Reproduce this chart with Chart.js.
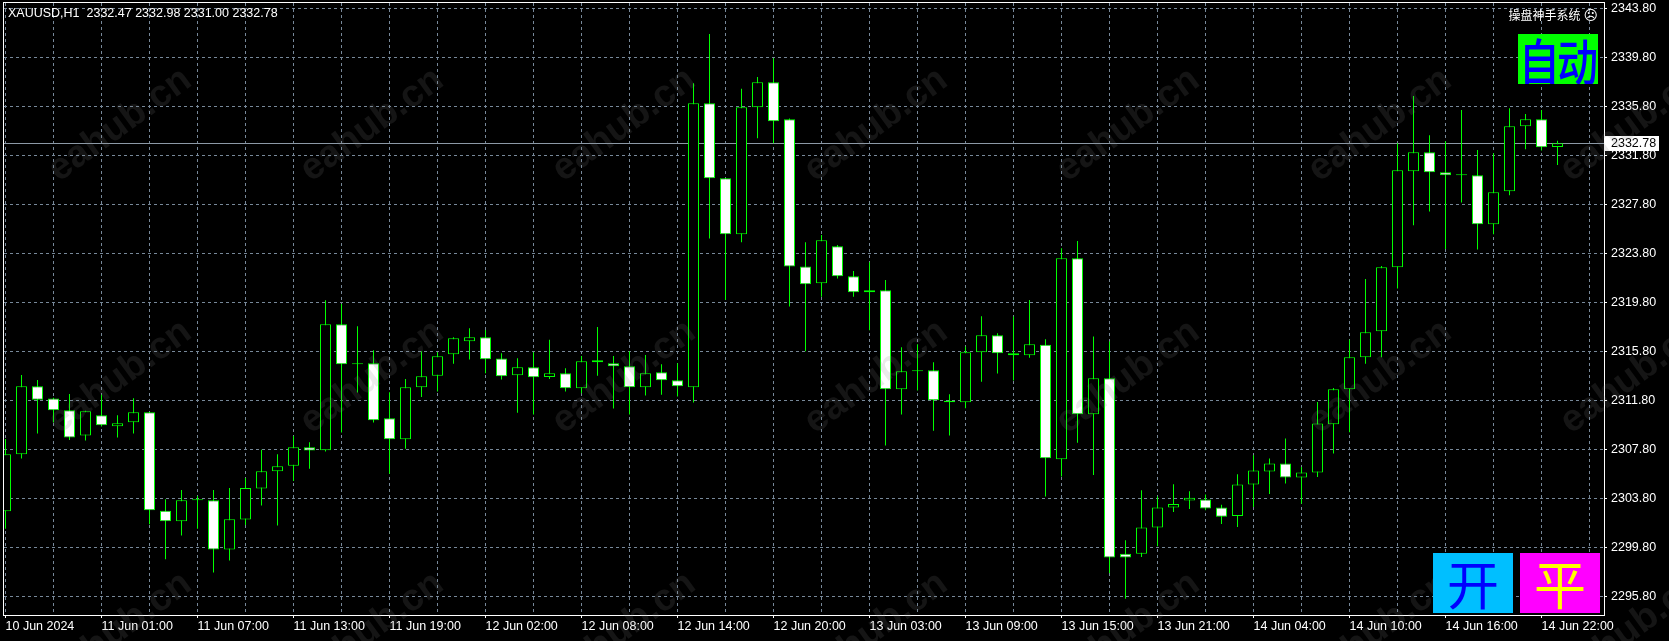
<!DOCTYPE html>
<html>
<head>
<meta charset="utf-8">
<script src="https://cdn.jsdelivr.net/npm/chart.js@4/dist/chart.umd.min.js"></script>
<style>
  html, body { margin: 0; padding: 0; background: #000; }
  #wrap { position: relative; width: 1669px; height: 641px; overflow: hidden; background: #000; }
  canvas { position: absolute; left: 0; top: 0; }
  .txt { position: absolute; color: #fff; font: 12.5px "Liberation Sans", Arial, sans-serif; white-space: pre; }
  #sys { font: 12px "Noto Sans CJK SC", sans-serif; right: 71px; top: 6px; }
  #sys span { font: 14px "DejaVu Sans", sans-serif; margin-left: 3px; }
  .btn { position: absolute; text-align: center; font-family: "Noto Sans CJK SC", sans-serif; overflow: hidden; white-space: nowrap; }
  #auto { left: 1518px; top: 34px; width: 80px; height: 50px; background: #00ff00; color: #0000ff; font-size: 42px; line-height: 50px; letter-spacing: -3px; font-weight: 500; }
  #auto span { display: inline-block; transform: scale(0.98, 1.2); margin-left: -2px; }
  #open { left: 1433px; top: 553px; width: 80px; height: 60px; background: #00bfff; color: #0000ff; font-size: 52px; line-height: 60px; }
  #flat { left: 1520px; top: 553px; width: 80px; height: 60px; background: #ff00ff; color: #ffff00; font-size: 52px; line-height: 60px; }
</style>
</head>
<body>
<div id="wrap">
  <canvas id="c" width="1669" height="641"></canvas>
  <div id="hdr" class="txt" style="left:8px; top:6px;"></div>
  <div id="sys" class="txt">操盘神手系统<span>☹</span></div>
  <div id="auto" class="btn"><span>自动</span></div>
  <div id="open" class="btn">开</div>
  <div id="flat" class="btn">平</div>
</div>
<script>
const symbol = 'XAUUSD';
const period = 'H1';

// one entry per hourly bar, 10 Jun 18:00 .. 14 Jun 23:00
const opens = [2302.74,2307.39,2312.94,2311.94,2310.98,2308.92,2310.58,2309.68,2310.00,2310.82,
  2302.79,2301.92,2303.64,2303.64,2299.61,2302.06,2304.59,2306.00,2306.45,2307.96,
  2307.72,2318.00,2314.74,2314.82,2310.33,2308.62,2312.86,2313.81,2315.56,2316.62,
  2316.94,2315.20,2313.84,2314.49,2313.70,2314.00,2312.78,2315.07,2314.82,2314.58,
  2312.86,2314.09,2313.43,2312.86,2336.04,2329.92,2325.35,2335.72,2337.76,2334.74,
  2322.71,2321.35,2324.37,2321.92,2320.78,2320.78,2312.70,2314.17,2314.25,2311.77,
  2311.64,2315.72,2317.11,2315.64,2315.47,2316.34,2306.98,2323.39,2310.66,2313.60,
  2299.28,2299.26,2301.41,2303.04,2303.61,2303.69,2303.04,2302.36,2304.92,2305.98,
  2306.63,2305.49,2305.90,2309.84,2312.70,2315.31,2317.43,2322.66,2330.49,2332.04,
  2330.41,2330.17,2330.17,2326.17,2328.86,2334.17,2334.74,2332.47];
const highs = [2308.64,2313.87,2313.46,2312.00,2312.32,2310.95,2312.24,2310.58,2311.96,2310.85,
  2303.72,2304.48,2303.99,2304.48,2304.64,2305.46,2307.75,2307.39,2308.89,2308.37,
  2319.96,2319.66,2317.84,2315.88,2312.45,2313.54,2315.80,2315.72,2316.94,2317.68,
  2317.54,2315.64,2315.23,2315.72,2316.73,2314.41,2315.42,2317.79,2315.42,2315.80,
  2315.50,2314.74,2314.82,2337.68,2341.70,2329.95,2337.22,2338.19,2339.72,2334.80,
  2324.70,2325.30,2324.48,2322.36,2323.07,2321.62,2316.13,2316.37,2314.90,2312.29,
  2316.18,2318.66,2317.27,2318.63,2319.99,2316.78,2324.20,2324.81,2317.00,2316.60,
  2300.37,2304.45,2303.94,2304.94,2304.37,2304.10,2303.28,2305.76,2307.31,2307.04,
  2308.67,2306.36,2311.66,2312.80,2316.73,2321.70,2322.77,2332.78,2336.64,2333.43,
  2332.94,2335.50,2332.24,2331.96,2335.64,2335.17,2335.50,2332.98];
const lows = [2301.32,2307.04,2309.08,2309.98,2308.56,2308.51,2309.65,2308.75,2309.08,2301.68,
  2298.82,2300.75,2301.32,2297.73,2298.71,2301.62,2303.20,2301.57,2305.20,2306.20,
  2307.61,2309.16,2312.43,2309.98,2305.80,2307.85,2312.07,2312.51,2314.79,2315.12,
  2314.00,2313.49,2310.79,2310.63,2313.54,2312.51,2312.37,2313.81,2311.12,2310.63,
  2312.18,2312.26,2312.10,2311.61,2325.00,2319.99,2324.70,2333.19,2332.78,2319.45,
  2315.80,2320.26,2321.73,2320.26,2317.51,2308.10,2310.63,2312.59,2309.32,2308.92,
  2311.15,2313.32,2313.98,2313.41,2315.28,2303.94,2305.57,2308.34,2305.70,2297.70,
  2295.60,2299.01,2299.88,2302.68,2302.93,2302.82,2301.70,2301.46,2303.09,2304.15,
  2305.00,2303.36,2305.54,2307.45,2309.19,2314.79,2315.31,2320.92,2326.09,2327.20,
  2324.15,2327.94,2324.10,2325.35,2328.53,2332.29,2332.18,2331.00];
const closes = [2307.39,2312.94,2311.85,2310.98,2308.75,2310.90,2309.76,2309.92,2310.82,2302.82,
  2301.92,2303.64,2303.68,2299.61,2302.09,2304.64,2306.00,2306.41,2307.96,2307.69,
  2318.00,2314.74,2314.74,2310.17,2308.62,2312.86,2313.76,2315.39,2316.86,2316.94,
  2315.15,2313.76,2314.49,2313.68,2314.00,2312.78,2314.98,2314.90,2314.58,2312.86,
  2314.00,2313.43,2312.94,2336.04,2329.92,2325.35,2335.72,2337.76,2334.58,2322.71,
  2321.27,2324.86,2321.92,2320.62,2320.62,2312.70,2314.17,2314.19,2311.80,2311.64,
  2315.72,2317.11,2315.64,2315.47,2316.37,2307.07,2323.39,2310.66,2313.60,2298.96,
  2298.96,2301.41,2303.04,2303.34,2303.85,2302.96,2302.30,2304.92,2306.06,2306.63,
  2305.49,2305.90,2309.90,2312.70,2315.31,2317.35,2322.66,2330.58,2332.04,2330.41,
  2330.17,2330.17,2326.17,2328.78,2334.17,2334.74,2332.45,2332.78];

// time axis labels, one every 6 bars
const timeLabels = ['10 Jun 2024','11 Jun 01:00','11 Jun 07:00','11 Jun 13:00','11 Jun 19:00',
  '12 Jun 02:00','12 Jun 08:00','12 Jun 14:00','12 Jun 20:00','13 Jun 03:00','13 Jun 09:00',
  '13 Jun 15:00','13 Jun 21:00','14 Jun 04:00','14 Jun 10:00','14 Jun 16:00','14 Jun 22:00'];
const priceTicks = [2295.80,2299.80,2303.80,2307.80,2311.80,2315.80,2319.80,
  2323.80,2327.80,2331.80,2335.80,2339.80,2343.80];

const GRID = '#778899';
const UP = '#00ff00';
const FONT = { family: '"Liberation Sans", Arial, sans-serif', size: 12.5 };

const n = closes.length;
const last = n - 1;
document.getElementById('hdr').textContent =
  `${symbol},${period}  ${opens[last].toFixed(2)} ${highs[last].toFixed(2)} ${lows[last].toFixed(2)} ${closes[last].toFixed(2)}`;

const idx = closes.map((_, i) => i);
const gridBars = [];
for (let i = 0; i < 100; i += 3) gridBars.push(i);

const frame = {
  id: 'frame',
  beforeDatasetsDraw(chart) {
    const { ctx, chartArea: a, scales: { y } } = chart;
    const py = Math.round(y.getPixelForValue(closes[last])) + 0.5;
    ctx.save();
    ctx.strokeStyle = '#8c99a6';
    ctx.lineWidth = 1;
    ctx.beginPath();
    ctx.moveTo(a.left, py);
    ctx.lineTo(a.right, py);
    ctx.stroke();
    ctx.restore();
  },
  afterDraw(chart) {
    const { ctx, chartArea: a, scales: { y } } = chart;
    ctx.save();
    // plot frame
    ctx.strokeStyle = '#ffffff';
    ctx.lineWidth = 1;
    ctx.strokeRect(a.left - 0.5, a.top - 0.5, a.right - a.left + 1, a.bottom - a.top + 1);
    // bid label
    const py = Math.round(y.getPixelForValue(closes[last]));
    ctx.fillStyle = '#ffffff';
    ctx.fillRect(a.right + 1, py - 7, 54, 15);
    ctx.fillStyle = '#000000';
    ctx.font = '12.5px "Liberation Sans", Arial, sans-serif';
    ctx.textBaseline = 'middle';
    ctx.fillText(closes[last].toFixed(2), a.right + 7, py + 1);
    // watermark
    ctx.font = 'bold 38px "Liberation Sans", Arial, sans-serif';
    ctx.fillStyle = 'rgba(128,128,128,0.16)';
    ctx.textAlign = 'center';
    for (let r = 0; r < 3; r++) {
      for (let c = 0; c < 7; c++) {
        ctx.save();
        ctx.translate(120 + 252 * c, 125 + 252 * r);
        ctx.rotate(-36 * Math.PI / 180);
        ctx.fillText('eahub.cn', 0, 0);
        ctx.restore();
      }
    }
    ctx.restore();
  }
};

new Chart(document.getElementById('c'), {
  type: 'bar',
  data: {
    datasets: [
      {
        label: 'wick',
        data: idx.map(i => ({ x: i, y: [lows[i], highs[i]] })),
        backgroundColor: UP,
        borderWidth: 0,
        barThickness: 1,
        grouped: false,
        inflateAmount: 0,
        order: 2
      },
      {
        label: 'body',
        data: idx.map(i => ({ x: i, y: [opens[i], closes[i]] })),
        backgroundColor: idx.map(i => closes[i] >= opens[i] ? '#000000' : '#ffffff'),
        borderColor: UP,
        borderWidth: 1,
        borderSkipped: false,
        barThickness: 11,
        minBarLength: 1,
        grouped: false,
        inflateAmount: 0,
        order: 1
      }
    ]
  },
  options: {
    responsive: false,
    animation: false,
    devicePixelRatio: 1,
    layout: { padding: { left: 4, top: 3, right: 0, bottom: 0 } },
    plugins: { legend: { display: false }, tooltip: { enabled: false } },
    scales: {
      x: {
        type: 'linear',
        min: -0.09375,
        max: 99.90625,
        offset: false,
        afterBuildTicks: s => { s.ticks = gridBars.map(v => ({ value: v })); },
        afterFit: s => { s.height = 26; s.paddingLeft = 0; s.paddingRight = 0; },
        ticks: {
          autoSkip: false, maxRotation: 0, align: 'start', color: '#ffffff', padding: 1, font: FONT,
          callback: v => (v % 6 === 0 ? timeLabels[v / 6] : '')
        },
        grid: {
          offset: false, color: GRID, lineWidth: 1, tickLength: 3,
          tickColor: c => (c.index % 2 === 0 ? '#ffffff' : 'rgba(0,0,0,0)')
        },
        border: { display: false, dash: [3, 3] }
      },
      y: {
        type: 'linear',
        position: 'right',
        min: 2294.27,
        max: 2344.23,
        afterBuildTicks: s => { s.ticks = priceTicks.map(v => ({ value: v })); },
        afterFit: s => { s.width = 65; s.paddingTop = 0; s.paddingBottom = 0; },
        ticks: { autoSkip: false, color: '#ffffff', padding: 4, font: FONT, callback: v => v.toFixed(2) },
        grid: { color: GRID, lineWidth: 1, tickLength: 3, tickColor: '#ffffff' },
        border: { display: false, dash: [3, 3] }
      }
    }
  },
  plugins: [frame]
});
</script>
</body>
</html>
